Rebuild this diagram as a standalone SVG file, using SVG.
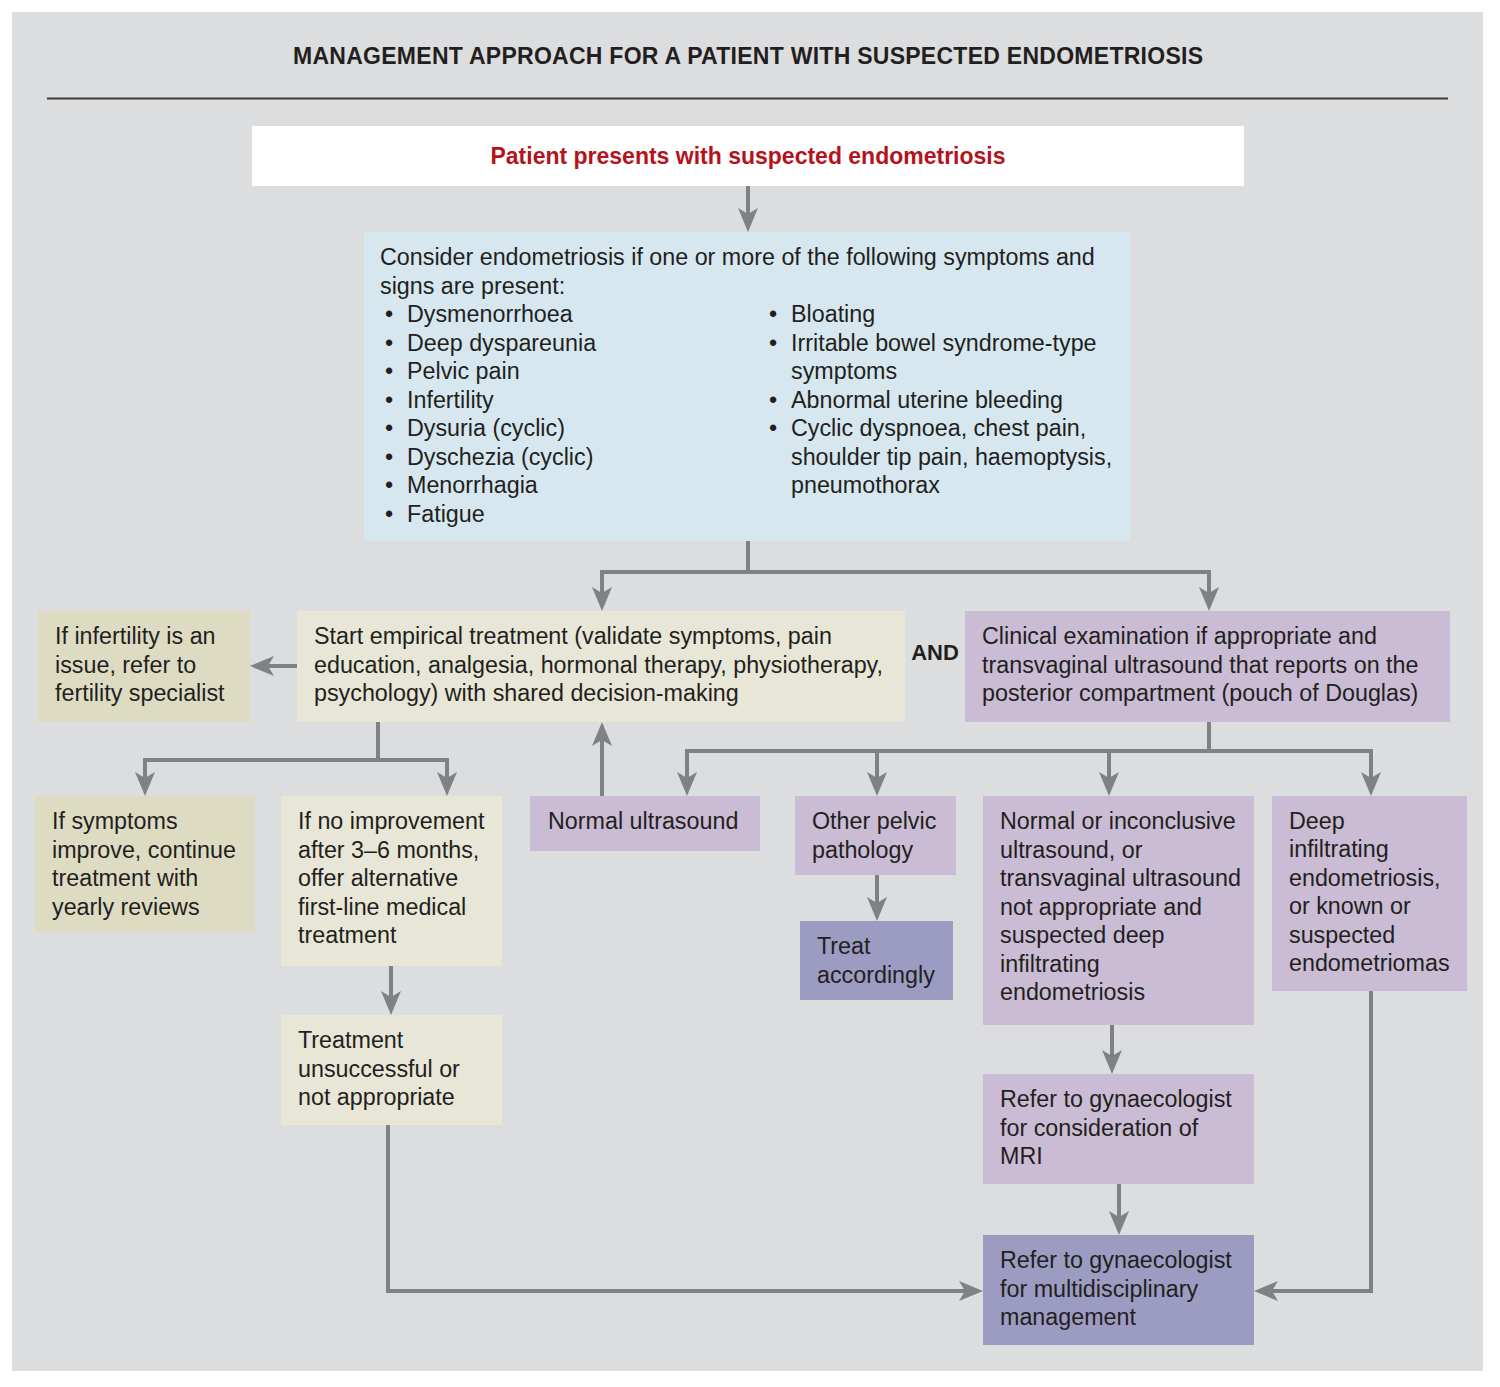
<svg xmlns="http://www.w3.org/2000/svg" width="1500" height="1387" viewBox="0 0 1500 1387">
<defs>
<marker id="ah" markerUnits="userSpaceOnUse" markerWidth="24" markerHeight="20" refX="14" refY="10" orient="auto" viewBox="0 0 24 20">
<path d="M0,0 L24,10 L0,20 L6,10 Z" fill="#808184"/>
</marker>
</defs>
<style>
.t{font-family:"Liberation Sans",Arial,sans-serif;font-size:23.3px;fill:#231f20}
.b{font-weight:bold}
.c{stroke:#808184;stroke-width:4;fill:none}
.cream{fill:#e8e6d6}
.khaki{fill:#dedbc3}
.lilac{fill:#c9bcd4}
.indigo{fill:#9c9cc2}
.blue{fill:#d6e7f0}
</style>
<rect x="0" y="0" width="1500" height="1387" fill="#ffffff"/>
<rect x="12" y="12" width="1471" height="1359" fill="#dcdddf"/>
<text class="t b" x="748" y="64" text-anchor="middle" textLength="910" lengthAdjust="spacing" style="font-size:23px">MANAGEMENT APPROACH FOR A PATIENT WITH SUSPECTED ENDOMETRIOSIS</text>
<line x1="47" y1="98.5" x2="1448" y2="98.5" stroke="#3a3a3a" stroke-width="2"/>

<g id="connectors">
<line class="c" x1="748" y1="186" x2="748" y2="222" marker-end="url(#ah)"/>
<path class="c" d="M748,541 V572"/>
<path class="c" d="M602,572 H1209"/>
<line class="c" x1="602" y1="570" x2="602" y2="601" marker-end="url(#ah)"/>
<line class="c" x1="1209" y1="570" x2="1209" y2="601" marker-end="url(#ah)"/>
<line class="c" x1="297" y1="666" x2="260" y2="666" marker-end="url(#ah)"/>
<path class="c" d="M378,722 V760"/>
<path class="c" d="M145,760 H447"/>
<line class="c" x1="145" y1="758" x2="145" y2="786" marker-end="url(#ah)"/>
<line class="c" x1="447" y1="758" x2="447" y2="786" marker-end="url(#ah)"/>
<line class="c" x1="391" y1="966" x2="391" y2="1005" marker-end="url(#ah)"/>
<path class="c" d="M388,1125 V1291 H973" marker-end="url(#ah)"/>
<line class="c" x1="602" y1="796" x2="602" y2="732" marker-end="url(#ah)"/>
<path class="c" d="M1209,722 V751"/>
<path class="c" d="M687,751 H1371"/>
<line class="c" x1="687" y1="749" x2="687" y2="786" marker-end="url(#ah)"/>
<line class="c" x1="877" y1="749" x2="877" y2="786" marker-end="url(#ah)"/>
<line class="c" x1="1109" y1="749" x2="1109" y2="786" marker-end="url(#ah)"/>
<line class="c" x1="1371" y1="749" x2="1371" y2="786" marker-end="url(#ah)"/>
<line class="c" x1="877" y1="875" x2="877" y2="911" marker-end="url(#ah)"/>
<line class="c" x1="1112" y1="1025" x2="1112" y2="1064" marker-end="url(#ah)"/>
<line class="c" x1="1119" y1="1184" x2="1119" y2="1225" marker-end="url(#ah)"/>
<path class="c" d="M1371,991 V1291 H1264" marker-end="url(#ah)"/>
</g>

<g id="n-start">
<rect x="252" y="126" width="992" height="60" fill="#ffffff"/>
<text class="t b" x="748" y="164" text-anchor="middle" style="fill:#b5121b;font-size:23px">Patient presents with suspected endometriosis</text>
</g>

<g id="n-consider">
<rect class="blue" x="364" y="232" width="766" height="309"/>
<text class="t" x="380" y="265">Consider endometriosis if one or more of the following symptoms and</text>
<text class="t" x="380" y="294">signs are present:</text>
<text class="t" x="385" y="322">•</text><text class="t" x="407" y="322">Dysmenorrhoea</text>
<text class="t" x="385" y="351">•</text><text class="t" x="407" y="351">Deep dyspareunia</text>
<text class="t" x="385" y="379">•</text><text class="t" x="407" y="379">Pelvic pain</text>
<text class="t" x="385" y="408">•</text><text class="t" x="407" y="408">Infertility</text>
<text class="t" x="385" y="436">•</text><text class="t" x="407" y="436">Dysuria (cyclic)</text>
<text class="t" x="385" y="465">•</text><text class="t" x="407" y="465">Dyschezia (cyclic)</text>
<text class="t" x="385" y="493">•</text><text class="t" x="407" y="493">Menorrhagia</text>
<text class="t" x="385" y="522">•</text><text class="t" x="407" y="522">Fatigue</text>
<text class="t" x="769" y="322">•</text><text class="t" x="791" y="322">Bloating</text>
<text class="t" x="769" y="351">•</text><text class="t" x="791" y="351">Irritable bowel syndrome-type</text>
<text class="t" x="791" y="379">symptoms</text>
<text class="t" x="769" y="408">•</text><text class="t" x="791" y="408">Abnormal uterine bleeding</text>
<text class="t" x="769" y="436">•</text><text class="t" x="791" y="436">Cyclic dyspnoea, chest pain,</text>
<text class="t" x="791" y="465">shoulder tip pain, haemoptysis,</text>
<text class="t" x="791" y="493">pneumothorax</text>
</g>

<g id="n-infertility">
<rect class="khaki" x="38" y="611" width="212" height="111"/>
<text class="t" x="55" y="644">If infertility is an</text>
<text class="t" x="55" y="673">issue, refer to</text>
<text class="t" x="55" y="701">fertility specialist</text>
</g>

<g id="n-empirical">
<rect class="cream" x="297" y="611" width="608" height="111"/>
<text class="t" x="314" y="644">Start empirical treatment (validate symptoms, pain</text>
<text class="t" x="314" y="673">education, analgesia, hormonal therapy, physiotherapy,</text>
<text class="t" x="314" y="701">psychology) with shared decision-making</text>
</g>

<g id="n-and">
<text class="t b" x="935" y="660" text-anchor="middle" style="font-size:22px">AND</text>
</g>

<g id="n-clinical">
<rect class="lilac" x="965" y="611" width="485" height="111"/>
<text class="t" x="982" y="644">Clinical examination if appropriate and</text>
<text class="t" x="982" y="673">transvaginal ultrasound that reports on the</text>
<text class="t" x="982" y="701">posterior compartment (pouch of Douglas)</text>
</g>

<g id="n-improve">
<rect class="khaki" x="35" y="796" width="220" height="136"/>
<text class="t" x="52" y="829">If symptoms</text>
<text class="t" x="52" y="858">improve, continue</text>
<text class="t" x="52" y="886">treatment with</text>
<text class="t" x="52" y="915">yearly reviews</text>
</g>

<g id="n-noimprove">
<rect class="cream" x="281" y="796" width="221" height="170"/>
<text class="t" x="298" y="829">If no improvement</text>
<text class="t" x="298" y="858">after 3–6 months,</text>
<text class="t" x="298" y="886">offer alternative</text>
<text class="t" x="298" y="915">first-line medical</text>
<text class="t" x="298" y="943">treatment</text>
</g>

<g id="n-unsuccessful">
<rect class="cream" x="281" y="1015" width="221" height="110"/>
<text class="t" x="298" y="1048">Treatment</text>
<text class="t" x="298" y="1077">unsuccessful or</text>
<text class="t" x="298" y="1105">not appropriate</text>
</g>

<g id="n-normal">
<rect class="lilac" x="530" y="796" width="230" height="55"/>
<text class="t" x="548" y="829">Normal ultrasound</text>
</g>

<g id="n-other">
<rect class="lilac" x="795" y="796" width="161" height="79"/>
<text class="t" x="812" y="829">Other pelvic</text>
<text class="t" x="812" y="858">pathology</text>
</g>

<g id="n-treat">
<rect class="indigo" x="800" y="921" width="153" height="79"/>
<text class="t" x="817" y="954">Treat</text>
<text class="t" x="817" y="983">accordingly</text>
</g>

<g id="n-inconclusive">
<rect class="lilac" x="983" y="796" width="271" height="229"/>
<text class="t" x="1000" y="829">Normal or inconclusive</text>
<text class="t" x="1000" y="858">ultrasound, or</text>
<text class="t" x="1000" y="886">transvaginal ultrasound</text>
<text class="t" x="1000" y="915">not appropriate and</text>
<text class="t" x="1000" y="943">suspected deep</text>
<text class="t" x="1000" y="972">infiltrating</text>
<text class="t" x="1000" y="1000">endometriosis</text>
</g>

<g id="n-deep">
<rect class="lilac" x="1272" y="796" width="195" height="195"/>
<text class="t" x="1289" y="829">Deep</text>
<text class="t" x="1289" y="857">infiltrating</text>
<text class="t" x="1289" y="886">endometriosis,</text>
<text class="t" x="1289" y="914">or known or</text>
<text class="t" x="1289" y="943">suspected</text>
<text class="t" x="1289" y="971">endometriomas</text>
</g>

<g id="n-mri">
<rect class="lilac" x="983" y="1074" width="271" height="110"/>
<text class="t" x="1000" y="1107">Refer to gynaecologist</text>
<text class="t" x="1000" y="1136">for consideration of</text>
<text class="t" x="1000" y="1164">MRI</text>
</g>

<g id="n-multi">
<rect class="indigo" x="983" y="1235" width="271" height="110"/>
<text class="t" x="1000" y="1268">Refer to gynaecologist</text>
<text class="t" x="1000" y="1297">for multidisciplinary</text>
<text class="t" x="1000" y="1325">management</text>
</g>
</svg>
